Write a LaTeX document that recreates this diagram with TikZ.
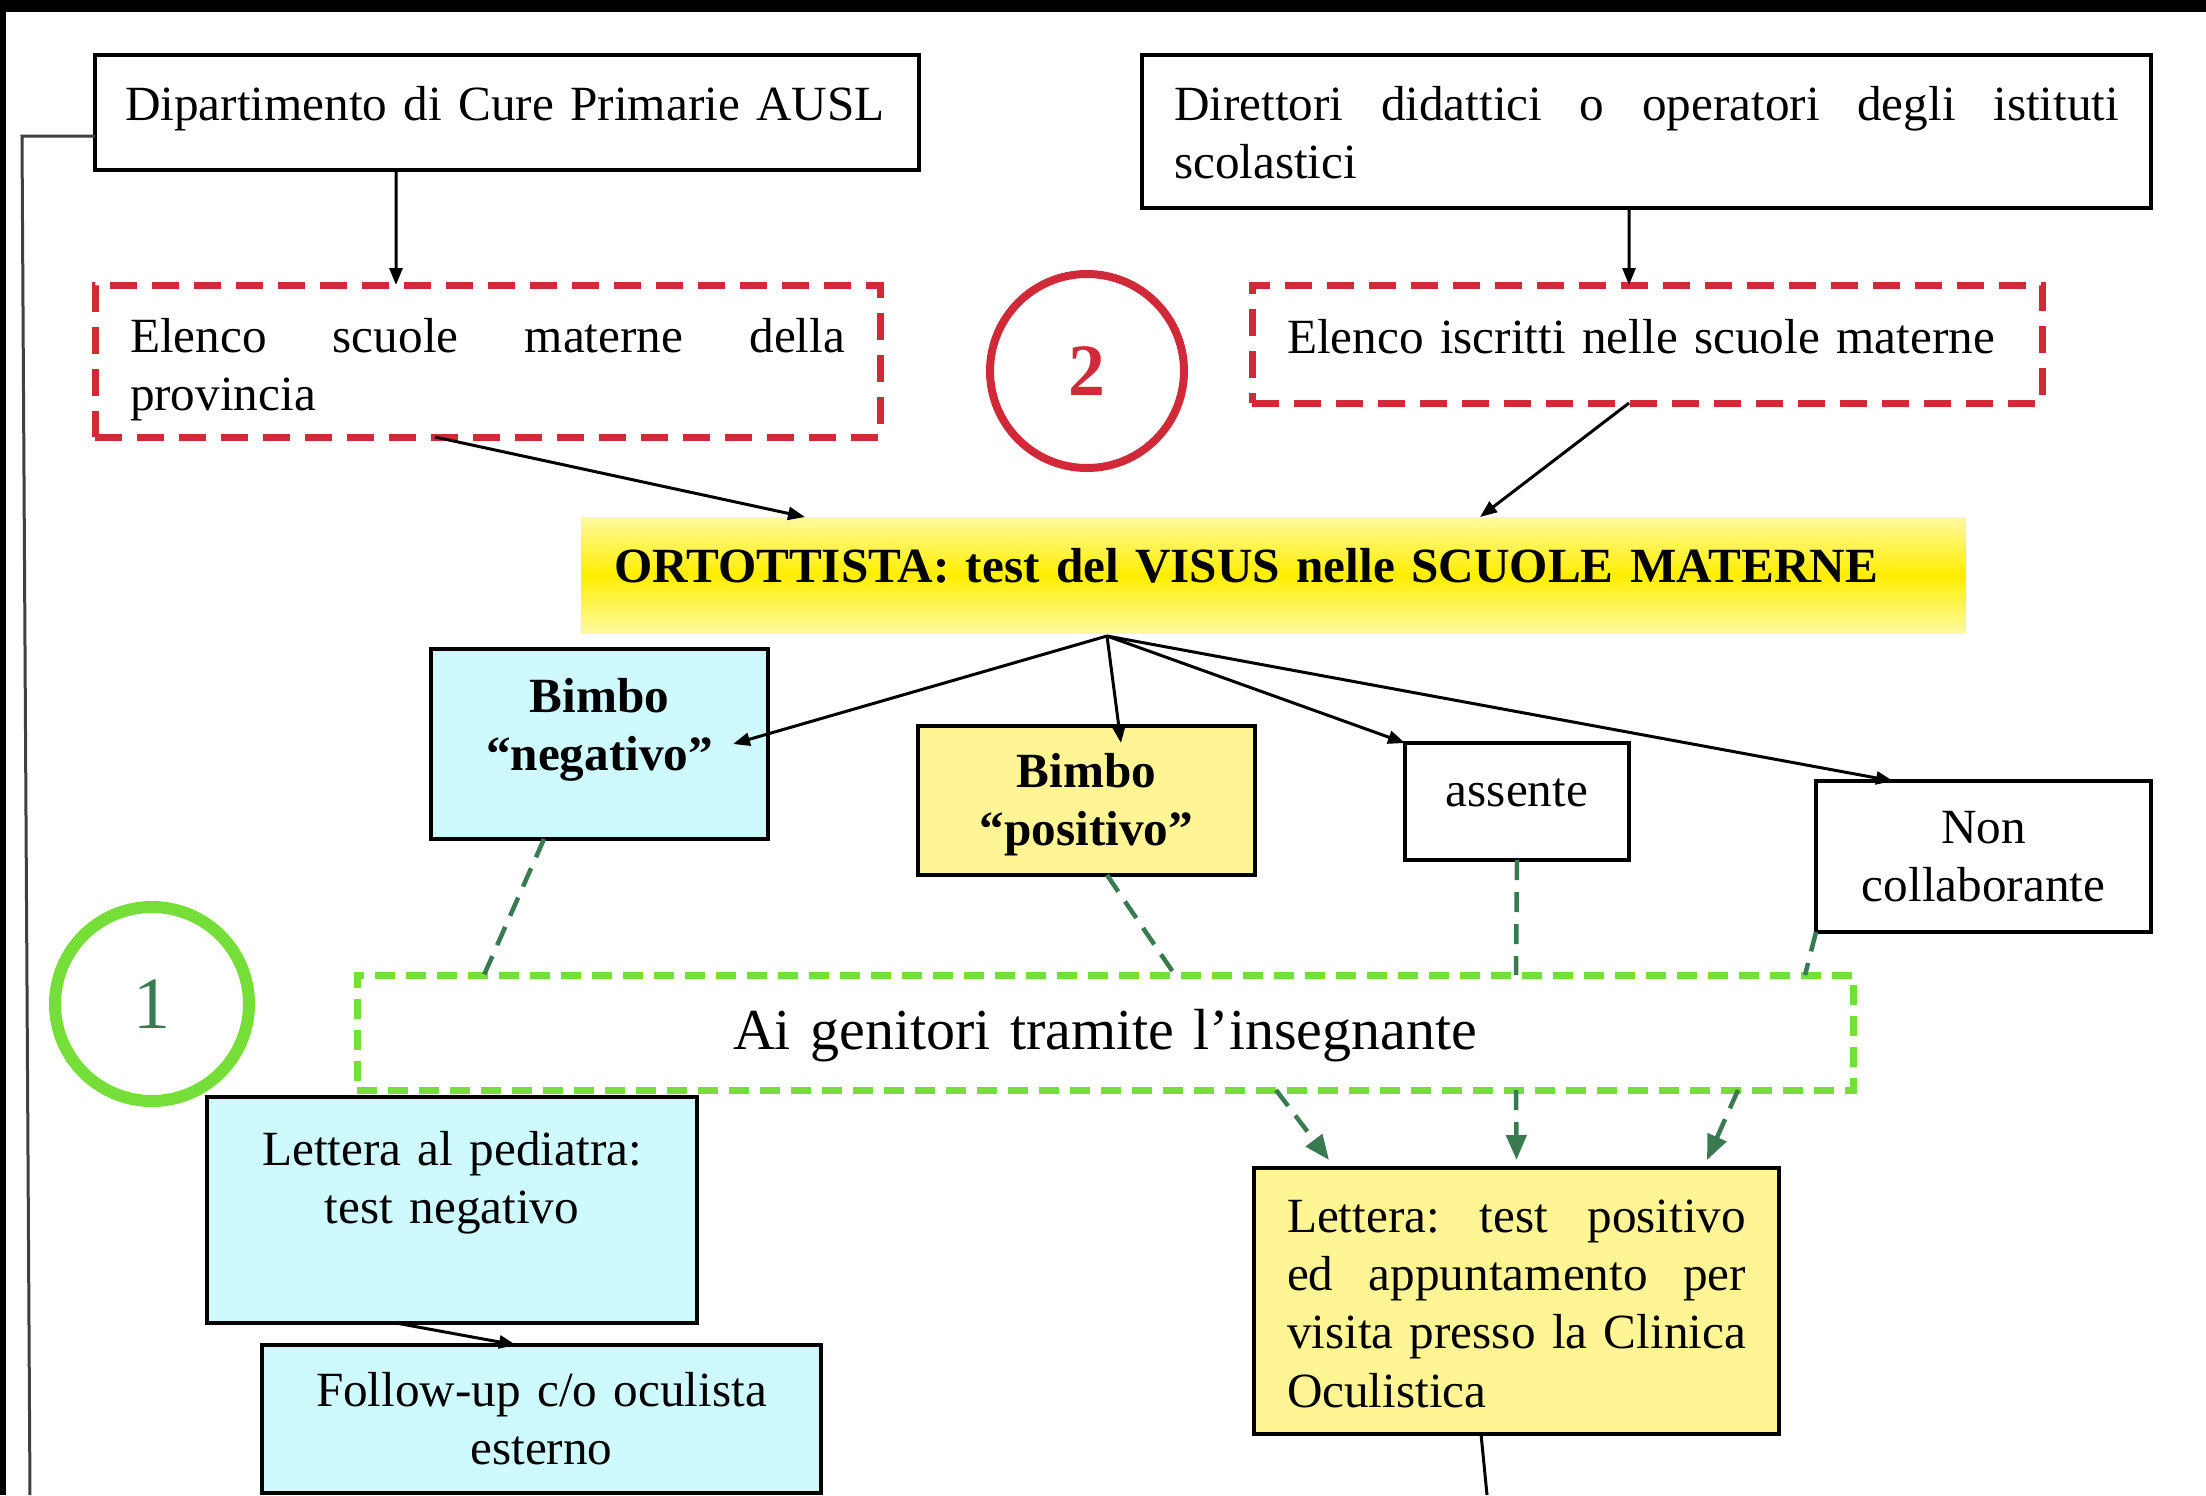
\documentclass[tikz,border=0pt]{standalone}
\usepackage{fontspec}
\setmainfont{Liberation Serif}
\usetikzlibrary{arrows.meta}
\definecolor{myred}{RGB}{208,42,56}
\definecolor{mygreen}{RGB}{118,222,56}
\definecolor{mydarkgreen}{RGB}{58,122,80}
\definecolor{mycyan}{RGB}{206,250,254}
\definecolor{mypaleyellow}{RGB}{255,245,148}
\definecolor{myyellow}{RGB}{255,238,0}
\definecolor{myyellowedge}{RGB}{255,250,160}
\newcommand{\boxfont}{\fontsize{14}{16.6}\selectfont}
\tolerance=10000
\hbadness=10000
\hyphenpenalty=10000
\frenchspacing

\begin{document}
\begin{tikzpicture}[
    every node/.style={inner ysep=0pt, outer sep=0pt, anchor=north west, font=\boxfont},
    blackbox/.style={draw=black, line width=0.04cm},
    reddash/.style={draw=myred, line width=0.07cm, dash pattern=on 0.27cm off 0.15cm},
    greendash/.style={draw=mygreen, line width=0.07cm, dash pattern=on 0.2cm off 0.11cm},
    ring/.style={circle, anchor=center, minimum size=1.94cm, inner sep=0pt},
    arr/.style={line width=0.03cm, -{Triangle[length=0.17cm, width=0.13cm]}},
    gline/.style={draw=mydarkgreen, line width=0.045cm, dash pattern=on 0.2cm off 0.12cm},
    garr/.style={gline, -{Triangle[length=0.25cm, width=0.2cm]}}
]
    % Frame
    \useasboundingbox (0,0) rectangle (22.06,-14.95);
    \fill[white] (0,0) rectangle (22.06,-14.95);
    \fill[black] (0,0) rectangle (22.06,-0.12);
    \fill[black] (0,0) rectangle (0.06,-14.95);

    % Sources
    \node[blackbox, inner xsep=0.3cm, text width=7.64cm, text height=0.65cm, text depth=0.50cm, align=left] (dip) at (0.95,-0.55) {Dipartimento di Cure Primarie AUSL};
    \node[blackbox, inner xsep=0.32cm, text width=9.45cm, text height=0.65cm, text depth=0.88cm, align=justify] (dir) at (11.42,-0.55) {Direttori didattici o operatori degli istituti\linebreak scolastici};

    % Lists (red dashed)
    \node[reddash, inner xsep=0.35cm, text width=7.15cm, text height=0.67cm, text depth=0.85cm, align=justify] (els) at (0.95,-2.85) {Elenco scuole materne della\linebreak provincia};
    \node[reddash, inner xsep=0.35cm, text width=7.20cm, text height=0.68cm, text depth=0.50cm, align=left] (eli) at (12.52,-2.85) {Elenco iscritti nelle scuole materne};
    \node[ring, draw=myred, line width=0.08cm, text=myred, font=\fontsize{21}{21}\selectfont\bfseries] (two) at (10.87,-3.71) {2};

    % Orthoptist test
    \node[top color=myyellowedge, bottom color=myyellowedge, middle color=myyellow, inner xsep=0.33cm, text width=13.19cm, text height=0.65cm, text depth=0.51cm, align=left, font=\boxfont\bfseries] (ort) at (5.81,-5.17) {ORTOTTISTA: test del VISUS nelle SCUOLE MATERNE};
    \coordinate (fan) at ([xshift=-1.665cm, yshift=-0.03cm]ort.south);

    % Outcomes
    \node[blackbox, fill=mycyan, inner xsep=0.1cm, text width=3.17cm, text height=0.63cm, text depth=1.27cm, align=center, font=\boxfont\bfseries] (bneg) at (4.31,-6.49) {Bimbo\\“negativo”};
    \node[blackbox, fill=mypaleyellow, inner xsep=0.1cm, text width=3.17cm, text height=0.61cm, text depth=0.88cm, align=center, font=\boxfont\bfseries] (bpos) at (9.18,-7.26) {Bimbo\\“positivo”};
    \node[blackbox, inner xsep=0.1cm, text width=2.04cm, text height=0.63cm, text depth=0.54cm, align=center] (ass) at (14.05,-7.43) {assente};
    \node[blackbox, inner xsep=0.1cm, text width=3.15cm, text height=0.62cm, text depth=0.89cm, align=center] (ncol) at (18.16,-7.81) {Non\\collaborante};

    % Parents (green dashed)
    \node[greendash, inner xsep=0.2cm, text width=14.56cm, text height=0.74cm, text depth=0.41cm, align=center, font=\fontsize{16.5}{19}\selectfont] (gen) at (3.57,-9.75) {Ai genitori tramite l’insegnante};
    \node[ring, draw=mygreen, line width=0.12cm, text=mydarkgreen, font=\fontsize{21}{21}\selectfont] (one) at (1.52,-10.04) {1};

    % Letters
    \node[blackbox, fill=mycyan, inner xsep=0.1cm, text width=4.70cm, text height=0.68cm, text depth=1.58cm, align=center] (lped) at (2.07,-10.97) {Lettera al pediatra:\\test negativo};
    \node[blackbox, fill=mycyan, inner xsep=0.1cm, text width=5.39cm, text height=0.61cm, text depth=0.87cm, align=center] (fup) at (2.62,-13.45) {Follow-up c/o oculista\\esterno};
    \node[blackbox, fill=mypaleyellow, inner xsep=0.33cm, text width=4.59cm, text height=0.64cm, text depth=2.02cm, align=justify] (lpos) at (12.54,-11.68) {Lettera: test positivo\linebreak ed appuntamento per\linebreak visita presso la Clinica\linebreak Oculistica};

    % Arrows
    \draw[arr] ([xshift=-1.11cm]dip.south) -- ([xshift=-0.915cm]els.north);
    \draw[arr] ([xshift=-0.175cm]dir.south) -- ([xshift=-0.18cm]eli.north);
    \draw[arr] ([xshift=-0.525cm]els.south) -- ([xshift=-4.685cm]ort.north);
    \draw[arr] ([xshift=-0.18cm]eli.south) -- ([xshift=2.065cm]ort.north);
    \draw[arr] (fan) -- ([xshift=-0.35cm]bneg.east);
    \draw[arr] (fan) -- ([xshift=0.345cm, yshift=-0.17cm]bpos.north);
    \draw[arr] (fan) -- (ass.north west);
    \draw[arr] (fan) -- ([xshift=-0.905cm]ncol.north);
    \draw[arr] ([xshift=-0.56cm]lped.south) -- ([xshift=-0.255cm]fup.north);

    % Dashed links to the parents
    \draw[gline] ([xshift=-0.555cm]bneg.south) -- ([xshift=-6.21cm]gen.north);
    \draw[gline] ([xshift=0.205cm]bpos.south) -- ([xshift=0.70cm]gen.north);
    \draw[gline] (ass.south) -- ([xshift=4.11cm]gen.north);
    \draw[gline] (ncol.south west) -- ([xshift=-0.48cm]gen.north east);
    \draw[garr] ([xshift=1.71cm]gen.south) -- ([xshift=-1.875cm, yshift=0.08cm]lpos.north);
    \draw[garr] ([xshift=4.11cm]gen.south) -- ([yshift=0.08cm]lpos.north);
    \draw[garr] ([xshift=6.33cm]gen.south) -- ([xshift=1.905cm, yshift=0.08cm]lpos.north);

    % Lines leaving the page
    \coordinate (lcorner) at (0.22,-1.36);
    \coordinate (lend) at (0.30,-14.95);
    \draw[line width=0.03cm, black!75] ([yshift=-0.235cm]dip.west) -- (lcorner) -- (lend);
    \coordinate (lposend) at (14.87,-14.95);
    \draw[line width=0.03cm] ([xshift=-0.355cm]lpos.south) -- (lposend);
\end{tikzpicture}
\end{document}
